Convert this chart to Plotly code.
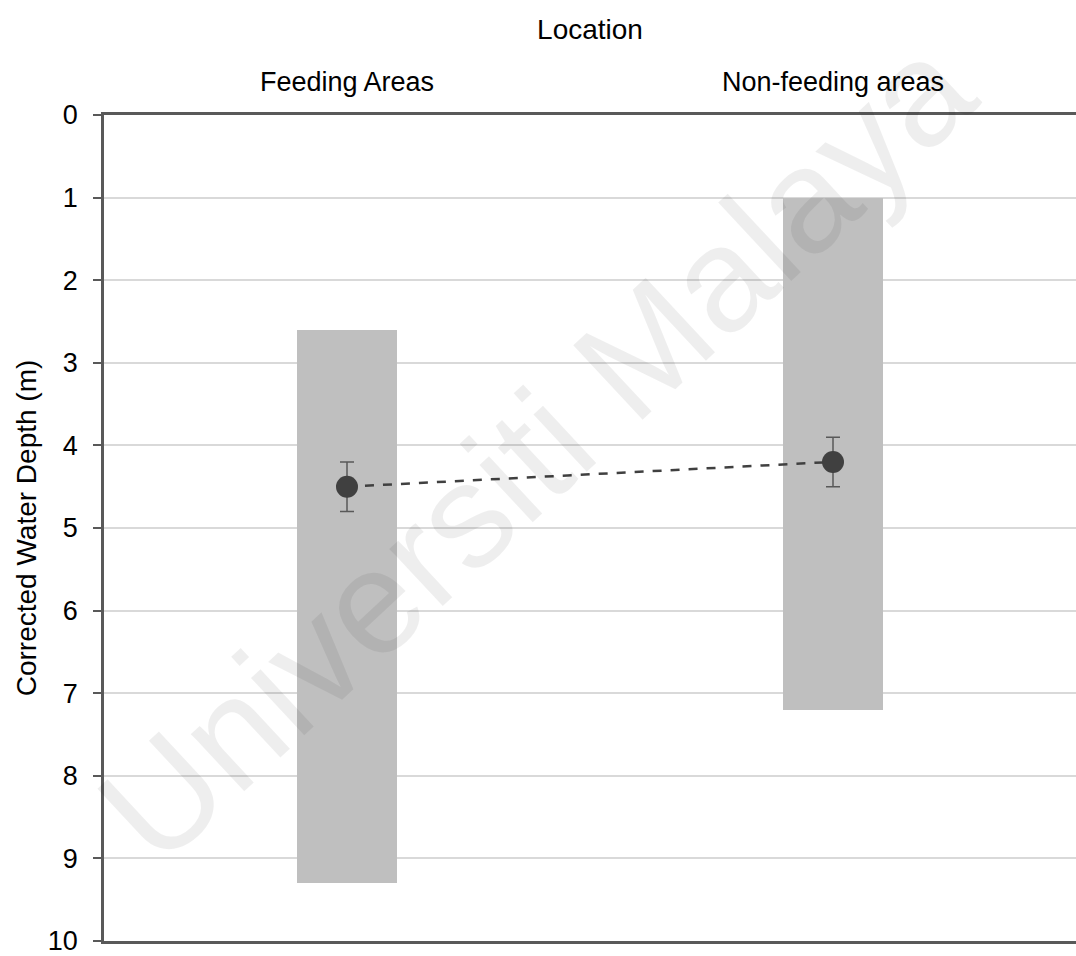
import plotly.graph_objects as go

categories = ["Feeding Areas", "Non-feeding areas"]
range_min = [2.6, 1.0]
range_max = [9.3, 7.2]
means = [4.5, 4.2]
errors = [0.3, 0.3]
y_ticks = [0, 1, 2, 3, 4, 5, 6, 7, 8, 9, 10]

W, H = 1076, 956
ML, MR, MT, MB = 104, 0, 115, 13

fig = go.Figure()
fig.add_trace(go.Bar(
    x=categories,
    y=[mx - mn for mn, mx in zip(range_min, range_max)],
    base=range_min,
    width=0.206,
    marker=dict(color="#bfbfbf", line=dict(width=0)),
    showlegend=False,
    hoverinfo="skip",
))
fig.add_trace(go.Scatter(
    x=categories,
    y=means,
    mode="lines+markers",
    line=dict(color="#404040", width=2.5, dash="dash"),
    marker=dict(color="#404040", size=22),
    error_y=dict(type="data", array=errors, color="#595959", thickness=1.5, width=7),
    showlegend=False,
))

fig.update_layout(
    width=W, height=H,
    margin=dict(l=ML, r=MR, t=MT, b=MB),
    paper_bgcolor="white",
    plot_bgcolor="white",
    font=dict(family="Liberation Sans, Arial, sans-serif", size=27, color="#000000"),
    bargap=0,
)
fig.update_xaxes(
    type="category",
    side="top",
    range=[-0.5, 1.5],
    showline=True, linecolor="#595959", linewidth=2.5, mirror=True,
    showgrid=False, ticks="",
    tickfont=dict(size=27),
    ticklabelstandoff=10,
    title=dict(text="Location", font=dict(size=28), standoff=20),
)
fig.update_yaxes(
    range=[10, 0],
    tickvals=y_ticks,
    showline=True, linecolor="#595959", linewidth=2.5, mirror=False,
    showgrid=True, gridcolor="#d9d9d9", gridwidth=1.5,
    zeroline=False,
    ticks="outside", ticklen=8, tickcolor="#595959", tickwidth=1.5,
    tickfont=dict(size=27),
    ticklabelstandoff=10,
    ticklabeloverflow="allow",
    title=dict(text="Corrected Water Depth (m)", font=dict(size=28), standoff=4),
)

fig.add_annotation(
    text="Universiti Malaya",
    xref="paper", yref="paper",
    x=(535 - ML) / (W - ML - MR), y=1 - (450 - MT) / (H - MT - MB),
    showarrow=False,
    textangle=-43,
    font=dict(family="Liberation Sans, Arial, sans-serif", size=148, color="rgba(0,0,0,0.065)"),
)

fig.write_html("out.html")
